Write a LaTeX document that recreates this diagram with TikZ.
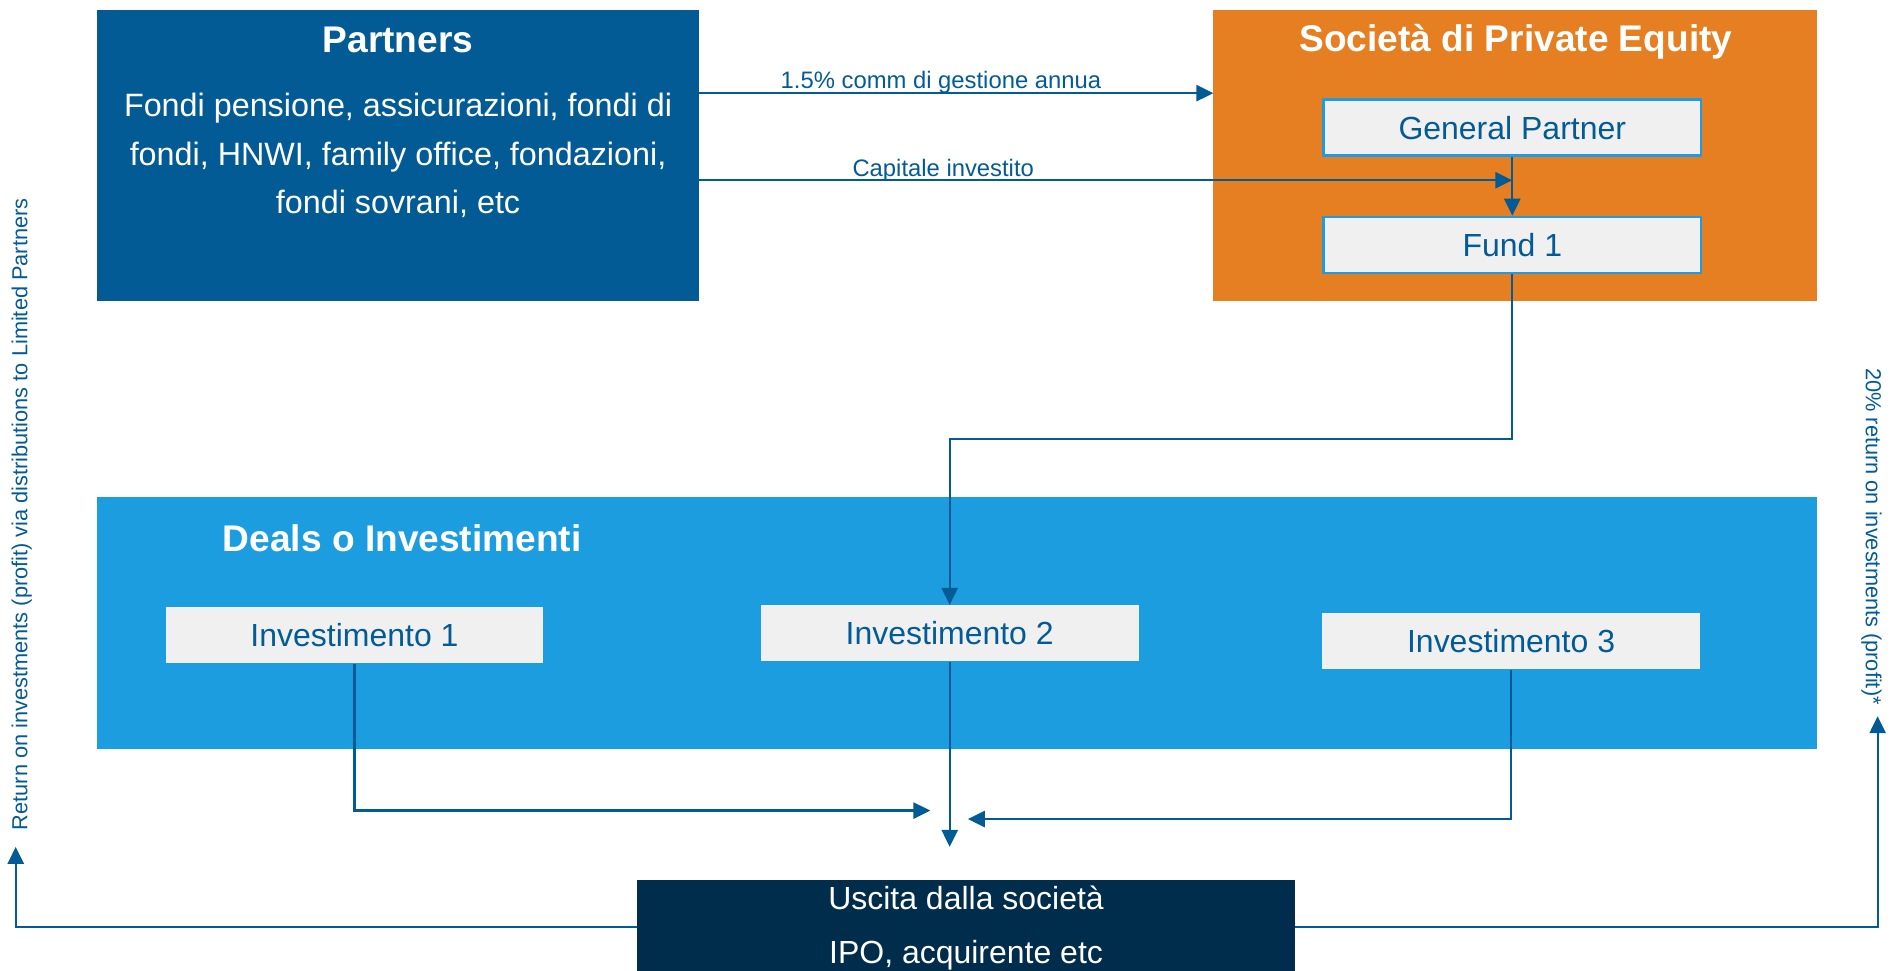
\documentclass[tikz,border=0pt]{standalone}
\usepackage{fontspec}
\setmainfont{Liberation Sans}
\definecolor{lpblue}{RGB}{3, 91, 150}
\definecolor{peorange}{RGB}{230, 126, 34}
\definecolor{dealblue}{RGB}{28, 157, 224}
\definecolor{exitnavy}{RGB}{0, 45, 75}
\definecolor{boxgray}{RGB}{240, 240, 240}
\definecolor{edgeblue}{RGB}{30, 155, 226}
\usetikzlibrary{arrows.meta, positioning}

\begin{document}
\begin{tikzpicture}[
  x=0.025cm, y=-0.025cm,
  panel/.style={inner sep=0pt, outer sep=0pt, align=center, text=white},
  head/.style={text=white, font=\fontsize{21.8}{26}\selectfont\bfseries},
  grey/.style={fill=boxgray, text=lpblue, minimum width=7.8cm, minimum height=1.16cm, inner sep=0pt, font=\fontsize{18.8}{22}\selectfont},
  flow/.style={draw=lpblue, line width=1.3pt, -{Triangle[length=10pt, width=9.5pt]}},
  lbl/.style={text=lpblue, font=\fontsize{14}{17}\selectfont, inner sep=0pt, anchor=base, yshift=2.5pt},
  side/.style={text=lpblue, font=\fontsize{12.8}{15}\selectfont, inner sep=0pt}
]
  \useasboundingbox (0,0) rectangle (1568,802);

  % top row
  \node[panel, fill=lpblue, minimum width=12.45cm, minimum height=6.025cm, font=\fontsize{19}{28.5}\selectfont] (partners) at (329,128.5) {Fondi pensione, assicurazioni, fondi di\\fondi, HNWI, family office, fondazioni,\\fondi sovrani, etc};
  \node[head] (ptitle) at (329,33) {Partners};

  \node[panel, fill=peorange, minimum width=12.475cm, minimum height=6.025cm] (pe) at (1252.5,128.5) {};
  \node[head] (petitle) at (1253,34.5) {Società di Private Equity};
  \node[grey, draw=edgeblue, line width=1.5pt] (gp) at (1250,105.5) {General Partner};
  \node[grey, draw=edgeblue, line width=1.5pt] (fund) at (1250,202.5) {Fund 1};

  % deals
  \node[panel, fill=dealblue, minimum width=35.55cm, minimum height=5.2cm] (deals) at (791,515) {};
  \node[head] (dtitle) at (332.5,445) {Deals o Investimenti};
  \node[grey] (inv1) at (293,525) {Investimento 1};
  \node[grey] (inv2) at (785,523.5) {Investimento 2};
  \node[grey] (inv3) at (1249,530) {Investimento 3};

  % exit
  \node[panel, fill=exitnavy, minimum width=13.575cm, minimum height=2cm, font=\fontsize{18.8}{32}\selectfont] (exit) at (798.5,767) {Uscita dalla società\\IPO, acquirente etc};

  \node[side, rotate=90] (lpret) at (18,425) {Return on investments (profit) via distributions to Limited Partners};
  \node[side, rotate=-90] (gpret) at (1547,443.5) {20\% return on investments (profit)*};

  \coordinate (feeY) at (0,77);
  \coordinate (capY) at (0,149);
  \coordinate (fundY) at (0,363);
  \coordinate (retY) at (0,766);
  \coordinate (inA) at (769,670);
  \coordinate (inB) at (785,700);
  \coordinate (inC) at (800,677);
  \coordinate (lpend) at (13,700);
  \coordinate (gpend) at (1552,592);

  \draw[flow] (partners.east |- feeY) -- node[lbl, pos=0.47] {1.5\% comm di gestione annua} (pe.west |- feeY);
  \draw[flow] (partners.east |- capY) -- node[lbl, pos=0.3] {Capitale investito} (gp.south |- capY);
  \draw[flow] (gp.south) -- (fund.north);
  \draw[flow] (fund.south) -- (fund.south |- fundY) -| (inv2.north);

  \draw[flow] (inv1.south) |- (inA);
  \draw[flow] (inv2.south) -- (inB);
  \draw[flow] (inv3.south) |- (inC);

  \draw[flow] (exit.west |- retY) -| (lpend);
  \draw[flow] (exit.east |- retY) -| (gpend);
\end{tikzpicture}
\end{document}
